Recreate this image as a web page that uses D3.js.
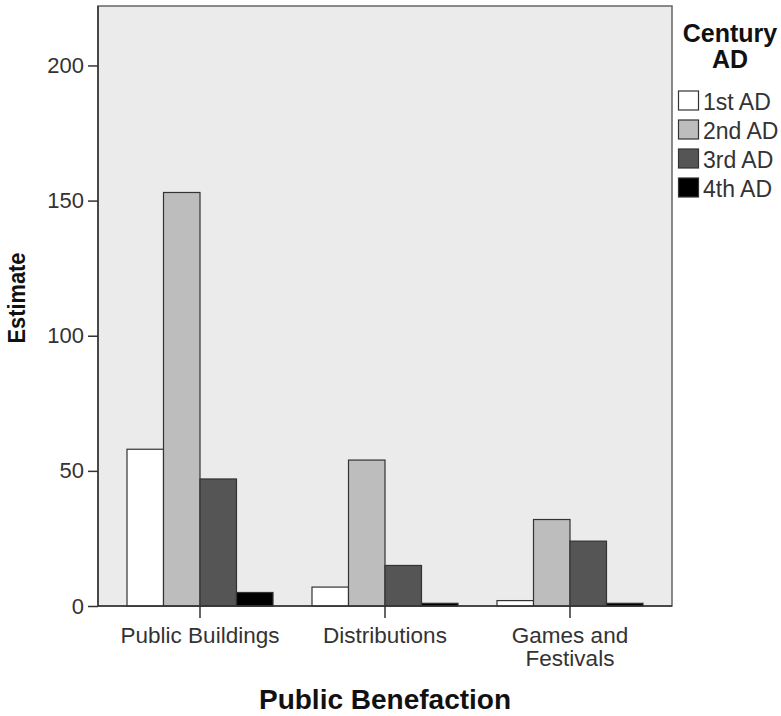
<!DOCTYPE html>
<html><head><meta charset="utf-8">
<script src="https://cdn.jsdelivr.net/npm/d3@7"></script>
<style>body{margin:0;background:#fff;font-family:"Liberation Sans",Arial,sans-serif;}</style>
</head><body><svg id="c" width="781" height="716"></svg>
<script>
const categories = ["Public Buildings", "Distributions", "Games and Festivals"];
const categoryLines = [["Public Buildings"], ["Distributions"], ["Games and", "Festivals"]];
const series = ["1st AD", "2nd AD", "3rd AD", "4th AD"];
const values = {
  "1st AD": [58, 7, 2],
  "2nd AD": [153, 54, 32],
  "3rd AD": [47, 15, 24],
  "4th AD": [5, 1, 1]
};
const yTicks = [0, 50, 100, 150, 200];
const colors = ["#ffffff", "#bdbdbd", "#555555", "#000000"];

const svg = d3.select("#c");
const frame = {left: 98, right: 672, top: 6, bottom: 606};
const y = d3.scaleLinear().domain([0, 222]).range([frame.bottom, frame.top]);
const x0 = d3.scaleBand().domain(categories).range([107.5, 662.5]).padding(0);
const groupW = 146;
const x1 = d3.scaleBand().domain(series).range([0, groupW]).padding(0);

svg.append("rect").attr("x", frame.left).attr("y", frame.top)
  .attr("width", frame.right - frame.left).attr("height", frame.bottom - frame.top)
  .attr("fill", "#ebebeb").attr("stroke", "#666").attr("stroke-width", 1.5);

const data = [];
categories.forEach((c, i) => series.forEach((s, j) => data.push({c, s, j, v: values[s][i]})));
svg.append("g").selectAll("rect").data(data).join("rect")
  .attr("x", d => x0(d.c) + (x0.bandwidth() - groupW) / 2 + x1(d.s))
  .attr("y", d => y(d.v))
  .attr("width", x1.bandwidth())
  .attr("height", d => y(0) - y(d.v))
  .attr("fill", d => colors[d.j])
  .attr("stroke", "#333").attr("stroke-width", 1.2);

// y axis
const yAxis = svg.append("g").attr("transform", `translate(${frame.left},0)`)
  .call(d3.axisLeft(y).tickValues(yTicks).tickSize(10).tickPadding(4));
yAxis.select(".domain").attr("stroke", "#333").attr("stroke-width", 1.5).attr("d", `M0,${frame.top}V${frame.bottom}`);
yAxis.selectAll(".tick line").attr("stroke", "#333").attr("stroke-width", 1.5);
yAxis.selectAll(".tick text").attr("font-size", 22).attr("fill", "#333").attr("font-family", "Liberation Sans, Arial, sans-serif");

// x axis
const xAxis = svg.append("g").attr("transform", `translate(0,${frame.bottom})`)
  .call(d3.axisBottom(x0).tickSize(12).tickFormat(""));
xAxis.select(".domain").attr("stroke", "#333").attr("stroke-width", 1.5).attr("d", `M${frame.left},0H${frame.right}`);
xAxis.selectAll(".tick line").attr("stroke", "#333").attr("stroke-width", 1.5);
categories.forEach((c, i) => {
  const cx = x0(c) + x0.bandwidth() / 2;
  const t = svg.append("text").attr("x", cx).attr("y", 643)
    .attr("text-anchor", "middle").attr("font-size", 22.5).attr("fill", "#333");
  categoryLines[i].forEach((l, k) => t.append("tspan").attr("x", cx).attr("dy", k ? 23 : 0).text(l));
});

// axis titles
svg.append("text").attr("x", 385).attr("y", 709).attr("text-anchor", "middle")
  .attr("font-size", 28).attr("font-weight", "bold").attr("fill", "#111").text("Public Benefaction");
svg.append("text").attr("transform", "translate(25,298) rotate(-90) scale(0.95,1)").attr("text-anchor", "middle")
  .attr("font-size", 23).attr("font-weight", "bold").attr("fill", "#111").text("Estimate");

// legend
const lg = svg.append("g");
lg.append("text").attr("x", 730).attr("y", 42).attr("text-anchor", "middle")
  .attr("font-size", 25).attr("font-weight", "bold").attr("fill", "#111").text("Century");
lg.append("text").attr("x", 730).attr("y", 68).attr("text-anchor", "middle")
  .attr("font-size", 25).attr("font-weight", "bold").attr("fill", "#111").text("AD");
series.forEach((s, j) => {
  const base = 110 + j * 29;
  lg.append("rect").attr("x", 678.5).attr("y", base - 19).attr("width", 20).attr("height", 19)
    .attr("fill", colors[j]).attr("stroke", "#333").attr("stroke-width", 1.2);
  lg.append("text").attr("x", 703).attr("y", base).attr("font-size", 23).attr("fill", "#333").text(s);
});
</script></body></html>
